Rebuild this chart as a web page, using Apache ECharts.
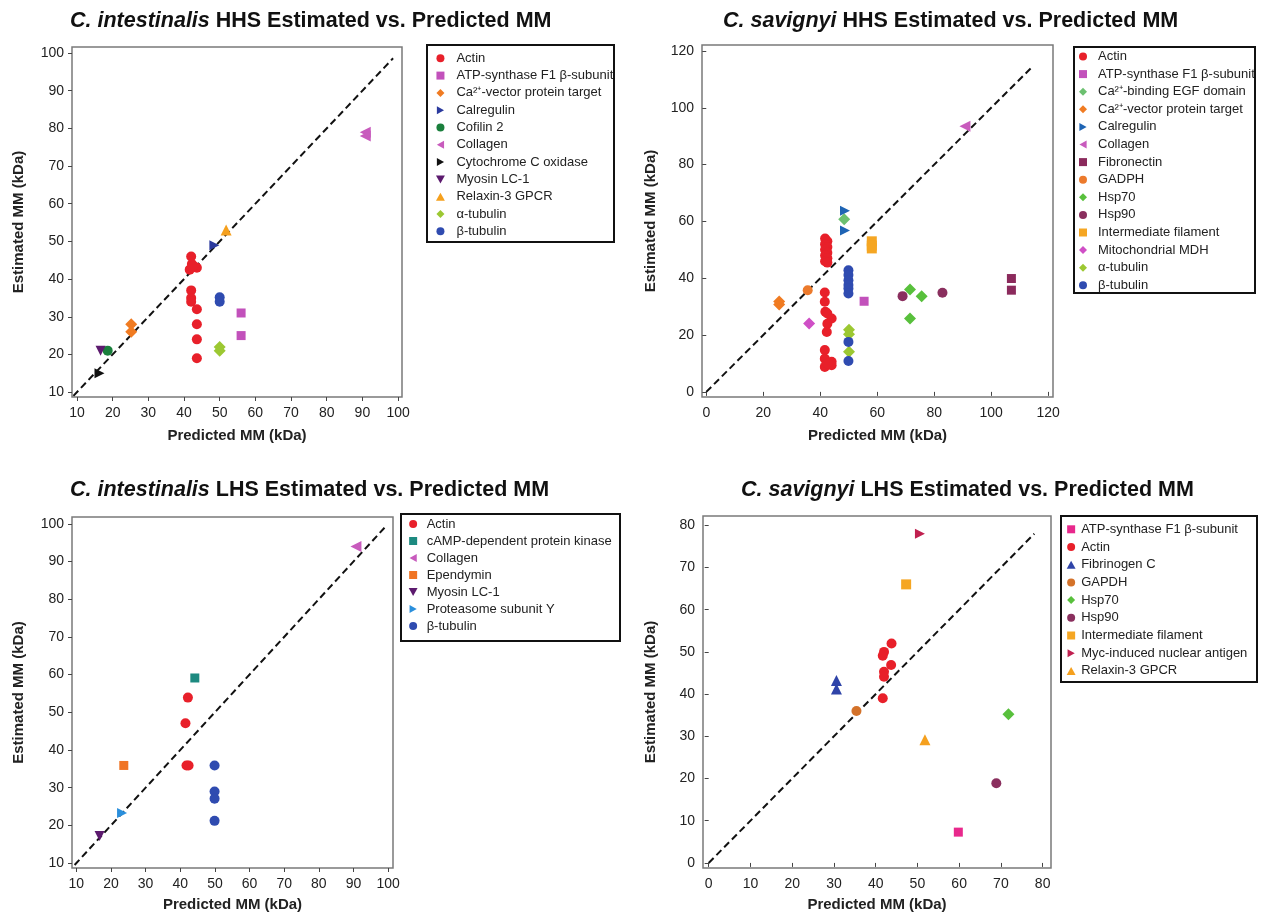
<!DOCTYPE html>
<html>
<head>
<meta charset="utf-8">
<script src="https://cdn.jsdelivr.net/npm/echarts@6/dist/echarts.min.js"></script>
<style>
html,body{margin:0;padding:0;background:#fff}
#chart{width:1262px;height:917px}
</style>
</head>
<body>
<div id="chart"></div>
<script>
// C. intestinalis HHS
var tlActin = [[42,46],[42.2,44],[41.6,42.5],[43.6,43],[42.6,43.5],[42,37],[42,35],[42,34],[43.6,32],[43.6,28],[43.6,24],[43.6,19]];
var tlAtp = [[56,31],[56,25]];
var tlCaVector = [[25.2,28],[25.2,26]];
var tlCalregulin = [[48.5,49]];
var tlCofilin = [[18.6,21]];
var tlCollagen = [[90.8,78],[90.8,79]];
var tlCytochrome = [[16.3,15]];
var tlMyosin = [[16.6,21]];
var tlRelaxin = [[51.8,53]];
var tlATub = [[50,22],[50,21]];
var tlBTub = [[50,35.2],[50,34]];
var tlDiag = [[9,9],[98.6,98.6]];

// C. savignyi HHS
var trActin = [[41.7,54],[42.5,53],[41.7,52],[42.5,51],[41.7,50],[42.5,49],[41.7,48],[42.5,47],[41.7,46],[42.5,45.5],
  [41.6,35],[41.6,31.7],[41.8,28.2],[42.5,27.6],[44,25.8],[42.5,24],[42.3,21.1],[41.6,14.7],[41.6,11.7],[41.6,8.8],[44,10.6],[44,9.4],[42.5,10]];
var trAtp = [[55.4,31.9]];
var trEgf = [[48.4,60.8]];
var trCaVector = [[25.6,31.8],[25.6,30.8]];
var trCalregulin = [[48.7,63.8],[48.7,56.8]];
var trCollagen = [[90.8,93.5]];
var trFibronectin = [[107.1,39.9],[107.1,35.8]];
var trGadph = [[35.6,35.8]];
var trHsp70 = [[71.5,36],[75.6,33.7],[71.5,25.8]];
var trHsp90 = [[68.9,33.7],[82.9,34.9]];
var trInterm = [[58.1,53],[58.1,51.5],[58.1,50.5]];
var trMdh = [[36.1,24.1]];
var trATub = [[50.1,21.9],[50.1,20.3],[50.1,14.1]];
var trBTub = [[49.9,42.8],[49.9,41.1],[49.9,39.3],[49.9,37.6],[49.9,36.4],[49.9,34.6],[49.9,17.6],[49.9,10.9]];
var trDiag = [[0,0],[114.7,114.7]];

// C. intestinalis LHS
var blActin = [[42.2,53.9],[41.5,47.1],[41.8,35.9],[42.4,35.9]];
var blCamp = [[44.2,59.1]];
var blCollagen = [[90.7,94]];
var blEpendymin = [[23.7,35.9]];
var blMyosin = [[16.7,17.2]];
var blProteasome = [[23.2,23.3]];
var blBTub = [[49.9,35.9],[49.9,29],[49.9,27.1],[49.9,21.2]];
var blDiag = [[9.5,9.5],[99,99]];

// C. savignyi LHS
var brAtp = [[59.8,7.3]];
var brActin = [[43.8,52],[42,50],[41.7,49.1],[43.7,46.9],[42,45.3],[42,44.1],[41.7,39]];
var brFibrinogen = [[30.6,43.2],[30.6,41.2]];
var brGapdh = [[35.4,36]];
var brHsp70 = [[71.8,35.2]];
var brHsp90 = [[68.9,18.9]];
var brInterm = [[47.3,66]];
var brMyc = [[50.6,78]];
var brRelaxin = [[51.8,29.2]];
var brDiag = [[0,0],[78,78]];

var ticks10 = [10,20,30,40,50,60,70,80,90,100];
var ticks20 = [0,20,40,60,80,100,120];
var ticks0to80 = [0,10,20,30,40,50,60,70,80];

// path symbols keep their shape in the legend icons
var RIGHT = 'path://M0,0L9,5L0,10Z';
var LEFT = 'path://M9,0L0,5L9,10Z';
var DOWN = 'path://M0,0L10,0L5,9Z';
var UP = 'path://M5,0L10,9L0,9Z';
var RECT = 'path://M0,0L10,0L10,10L0,10Z';
var DIAMOND = 'path://M5,0L10,5L5,10L0,5Z';

var sty = {
  actin: {symbol:'circle', size:10, color:'#e8202a'},
  atp: {symbol:RECT, size:9, color:'#c251bb'},
  atpMag: {symbol:RECT, size:9, color:'#e8288c'},
  caVector: {symbol:DIAMOND, size:12, color:'#f07b22'},
  calregulinNavy: {symbol:RIGHT, size:10, color:'#2b3a9e'},
  calregulin: {symbol:RIGHT, size:10, color:'#1e64b4'},
  cofilin: {symbol:'circle', size:10, color:'#1a7f3c'},
  collagen: {symbol:LEFT, size:11, color:'#c85bbd'},
  cytochrome: {symbol:RIGHT, size:10, color:'#111111'},
  myosin: {symbol:DOWN, size:10, color:'#5c1a6e'},
  relaxin: {symbol:UP, size:11, color:'#f5a01e'},
  aTub: {symbol:DIAMOND, size:12, color:'#9cc832'},
  bTub: {symbol:'circle', size:10, color:'#2f4bb0'},
  egf: {symbol:DIAMOND, size:12, color:'#6cc070'},
  fibronectin: {symbol:RECT, size:9, color:'#8b2a5c'},
  gadph: {symbol:'circle', size:10, color:'#ec7a2c'},
  hsp70: {symbol:DIAMOND, size:12, color:'#58c03c'},
  hsp90: {symbol:'circle', size:10, color:'#8a2f5e'},
  interm: {symbol:RECT, size:10, color:'#f5a623'},
  mdh: {symbol:DIAMOND, size:12, color:'#cf4fc6'},
  camp: {symbol:RECT, size:9, color:'#1d8a80'},
  ependymin: {symbol:RECT, size:9, color:'#f07424'},
  proteasome: {symbol:RIGHT, size:10, color:'#2a8fdc'},
  fibrinogen: {symbol:UP, size:11, color:'#2f44a8'},
  gapdh: {symbol:'circle', size:10, color:'#d4722a'},
  myc: {symbol:RIGHT, size:10, color:'#c02050'}
};

var panels = [
  {
    species: 'C. intestinalis', rest: ' HHS Estimated vs. Predicted MM', titleLeft: 70, titleTop: 10,
    grid: {left:72, top:47, width:330, height:350}, xr:[8.6,101.1], yr:[8.7,101.6], xt:ticks10, yt:ticks10,
    xGap: 31, yGap: 46, diag: tlDiag,
    leg: {left:436, top:51.3, w:22, gap:3.3}, box:[427,45,187,197],
    items: [['Actin',tlActin,'actin'],['ATP-synthase F1 β-subunit',tlAtp,'atp'],['Ca²⁺-vector protein target',tlCaVector,'caVector'],
      ['Calregulin',tlCalregulin,'calregulinNavy'],['Cofilin 2',tlCofilin,'cofilin'],['Collagen',tlCollagen,'collagen'],
      ['Cytochrome C oxidase',tlCytochrome,'cytochrome'],['Myosin LC-1',tlMyosin,'myosin'],['Relaxin-3 GPCR',tlRelaxin,'relaxin'],
      ['α-tubulin',tlATub,'aTub'],['β-tubulin',tlBTub,'bTub']]
  },
  {
    species: 'C. savignyi', rest: ' HHS Estimated vs. Predicted MM', titleLeft: 723, titleTop: 10,
    grid: {left:702, top:45, width:351, height:352}, xr:[-1.5,121.7], yr:[-1.8,122.1], xt:ticks20, yt:ticks20,
    xGap: 31, yGap: 44, diag: trDiag,
    leg: {left:1079, top:49.5, w:20, gap:3.6}, box:[1074,47,181,246],
    items: [['Actin',trActin,'actin'],['ATP-synthase F1 β-subunit',trAtp,'atp'],['Ca²⁺-binding EGF domain',trEgf,'egf'],
      ['Ca²⁺-vector protein target',trCaVector,'caVector'],['Calregulin',trCalregulin,'calregulin'],['Collagen',trCollagen,'collagen'],
      ['Fibronectin',trFibronectin,'fibronectin'],['GADPH',trGadph,'gadph'],['Hsp70',trHsp70,'hsp70'],['Hsp90',trHsp90,'hsp90'],
      ['Intermediate filament',trInterm,'interm'],['Mitochondrial MDH',trMdh,'mdh'],['α-tubulin',trATub,'aTub'],['β-tubulin',trBTub,'bTub']]
  },
  {
    species: 'C. intestinalis', rest: ' LHS Estimated vs. Predicted MM', titleLeft: 70, titleTop: 479,
    grid: {left:72, top:517, width:321, height:351}, xr:[8.75,101.4], yr:[8.7,101.8], xt:ticks10, yt:ticks10,
    xGap: 29, yGap: 46, diag: blDiag,
    leg: {left:408.7, top:517, w:17, gap:3}, box:[401,514,219,127],
    items: [['Actin',blActin,'actin'],['cAMP-dependent protein kinase',blCamp,'camp'],['Collagen',blCollagen,'collagen'],
      ['Ependymin',blEpendymin,'ependymin'],['Myosin LC-1',blMyosin,'myosin'],['Proteasome subunit Y',blProteasome,'proteasome'],
      ['β-tubulin',blBTub,'bTub']]
  },
  {
    species: 'C. savignyi', rest: ' LHS Estimated vs. Predicted MM', titleLeft: 741, titleTop: 479,
    grid: {left:703, top:516, width:348, height:352}, xr:[-1.36,82], yr:[-1.2,82.2], xt:ticks0to80, yt:ticks0to80,
    xGap: 29, yGap: 45, diag: brDiag,
    leg: {left:1066.7, top:522.3, w:10, gap:3.7}, box:[1061,516,196,166],
    items: [['ATP-synthase F1 β-subunit',brAtp,'atpMag'],['Actin',brActin,'actin'],['Fibrinogen C',brFibrinogen,'fibrinogen'],
      ['GAPDH',brGapdh,'gapdh'],['Hsp70',brHsp70,'hsp70'],['Hsp90',brHsp90,'hsp90'],['Intermediate filament',brInterm,'interm'],
      ['Myc-induced nuclear antigen',brMyc,'myc'],['Relaxin-3 GPCR',brRelaxin,'relaxin']]
  }
];

var titles = [], grids = [], xAxes = [], yAxes = [], legends = [], series = [], graphics = [];

panels.forEach(function (p, i) {
  titles.push({
    text: '{i|' + p.species + '}' + p.rest,
    left: p.titleLeft, top: p.titleTop, padding: 0,
    textStyle: {
      fontSize: 21.5, fontWeight: 'bold', color: '#111',
      rich: {i: {fontSize: 21.5, fontWeight: 'bold', fontStyle: 'italic', color: '#111'}}
    }
  });
  grids.push({
    left: p.grid.left, top: p.grid.top, width: p.grid.width, height: p.grid.height,
    show: true, borderColor: '#7a7a7a', borderWidth: 1.5, backgroundColor: '#fff'
  });
  var axisCommon = {
    type: 'value', gridIndex: i,
    nameLocation: 'middle',
    nameTextStyle: {fontSize: 15, fontWeight: 'bold', color: '#222'},
    axisLine: {show: false},
    splitLine: {show: false},
    axisTick: {show: true, inside: false, length: 4, lineStyle: {color: '#444'}},
    axisLabel: {fontSize: 14, color: '#222'}
  };
  xAxes.push(echarts.util.merge({
    min: p.xr[0], max: p.xr[1], name: 'Predicted MM (kDa)', nameGap: p.xGap,
    axisTick: {customValues: p.xt}, axisLabel: {customValues: p.xt, margin: 9}
  }, axisCommon));
  yAxes.push(echarts.util.merge({
    min: p.yr[0], max: p.yr[1], name: 'Estimated MM (kDa)', nameGap: p.yGap,
    axisTick: {customValues: p.yt}, axisLabel: {customValues: p.yt, margin: 8}
  }, axisCommon));

  series.push({
    type: 'line', xAxisIndex: i, yAxisIndex: i, data: p.diag,
    symbol: 'none', silent: true, z: 1,
    lineStyle: {color: '#111', width: 2, type: [7, 4]}
  });

  var names = [];
  p.items.forEach(function (it) {
    var s = sty[it[2]];
    var nm = it[0] + '#' + i;
    names.push(nm);
    series.push({
      name: nm, type: 'scatter', xAxisIndex: i, yAxisIndex: i, data: it[1],
      symbol: s.symbol, symbolSize: s.size, z: 3,
      itemStyle: {color: s.color, opacity: 1}
    });
  });

  legends.push({
    data: names, orient: 'vertical', left: p.leg.left, top: p.leg.top,
    itemWidth: p.leg.w, itemHeight: 8, itemGap: p.leg.gap, padding: 0,
    selectedMode: false,
    formatter: function (n) { return n.split('#')[0]; },
    textStyle: {fontSize: 13, lineHeight: 14, color: '#222'}
  });

  graphics.push({
    type: 'rect', z: 10,
    shape: {x: p.box[0], y: p.box[1], width: p.box[2], height: p.box[3]},
    style: {fill: 'none', stroke: '#111', lineWidth: 2}
  });
});

var myChart = echarts.init(document.getElementById('chart'));
myChart.setOption({
  animation: false,
  backgroundColor: '#fff',
  textStyle: {fontFamily: '"Liberation Sans", Arial, sans-serif'},
  title: titles,
  grid: grids,
  xAxis: xAxes,
  yAxis: yAxes,
  legend: legends,
  series: series,
  graphic: graphics
});
</script>
</body>
</html>
